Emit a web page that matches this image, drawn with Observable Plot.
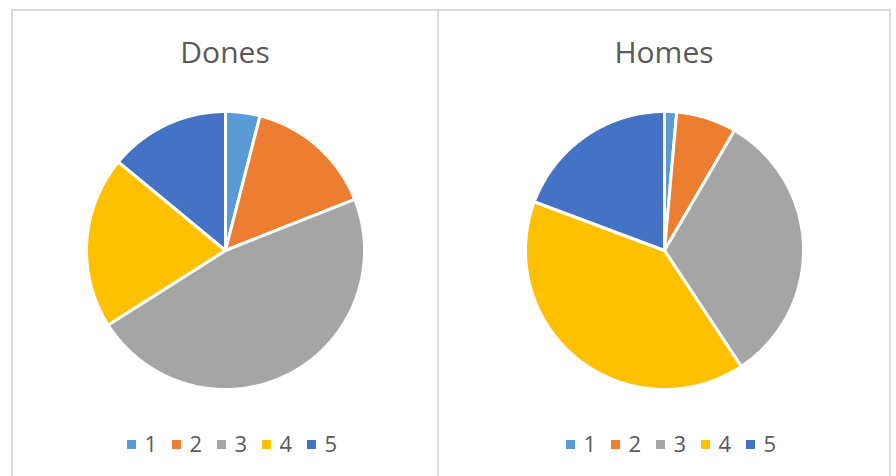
<!DOCTYPE html>
<html><head><meta charset="utf-8">
<script src="https://cdn.jsdelivr.net/npm/d3@7"></script>
<script src="https://cdn.jsdelivr.net/npm/@observablehq/plot@0.6"></script>
<style>
body{margin:0;background:#fff;width:896px;height:476px;overflow:hidden;position:relative;font-family:"Open Sans",sans-serif}
.frame{position:absolute;left:11px;top:9px;width:880px;height:480px;border:2px solid #d9d9d9;box-sizing:border-box}
.divider{position:absolute;left:437px;top:9px;width:2px;height:470px;background:#d9d9d9}
.title{position:absolute;font-size:30px;color:#595959;transform:translateX(-50%);white-space:nowrap;line-height:1}
.abs{position:absolute}
</style></head><body>
<div class="frame"></div>
<div class="divider"></div>
<div id="root"></div>
<script>
const keys = ["1", "2", "3", "4", "5"];
const colors = ["#5B9BD5", "#ED7D31", "#A5A5A5", "#FFC000", "#4472C4"];
const titles = ["Dones", "Homes"];
const donesValues = [4, 15, 47, 20, 14];
const homesValues = [1.4, 7, 32.3, 40, 19.3];

const panels = [
  {title: titles[0], values: donesValues, cx: 225},
  {title: titles[1], values: homesValues, cx: 664}
];
const cy = 250, R = 139, half = 150;
const root = document.getElementById("root");

function slicePoints(values) {
  const total = d3.sum(values);
  const pts = [];
  let a0 = 0;
  values.forEach((v, i) => {
    const a1 = a0 + v / total * 2 * Math.PI;
    pts.push({key: keys[i], x: 0, y: 0});
    const n = Math.max(2, Math.ceil((a1 - a0) / (Math.PI / 360)));
    for (let j = 0; j <= n; ++j) {
      const a = a0 + (a1 - a0) * j / n;
      pts.push({key: keys[i], x: Math.sin(a), y: Math.cos(a)});
    }
    a0 = a1;
  });
  return pts;
}

const k = half / R;
for (const p of panels) {
  const t = document.createElement("div");
  t.className = "title";
  t.textContent = p.title;
  t.style.left = p.cx + "px";
  t.style.top = "37px";
  root.appendChild(t);

  const pie = Plot.plot({
    width: 2 * half, height: 2 * half, margin: 0,
    x: {domain: [-k, k], axis: null},
    y: {domain: [-k, k], axis: null},
    color: {domain: keys, range: colors},
    marks: [
      Plot.line(slicePoints(p.values), {
        x: "x", y: "y", z: "key", fill: "key",
        stroke: "white", strokeWidth: 3, strokeLinejoin: "round",
        curve: "linear-closed"
      })
    ]
  });
  pie.classList.add("abs");
  pie.style.left = (p.cx - half) + "px";
  pie.style.top = (cy - half) + "px";
  root.appendChild(pie);

  const leg = Plot.plot({
    width: 260, height: 30, margin: 0,
    x: {type: "point", domain: keys, range: [31, 211], padding: 0, axis: null},
    color: {domain: keys, range: colors},
    marks: [
      Plot.dot(keys, {x: d => d, fill: d => d, symbol: "square", r: 5.08}),
      Plot.text(keys, {x: d => d, text: d => d, dx: 13, textAnchor: "start",
        fontSize: 22, fill: "#595959", fontFamily: "Open Sans"})
    ]
  });
  leg.classList.add("abs");
  leg.style.left = (p.cx - 94 - 31) + "px";
  leg.style.top = "429px";
  root.appendChild(leg);
}
</script>
</body></html>
